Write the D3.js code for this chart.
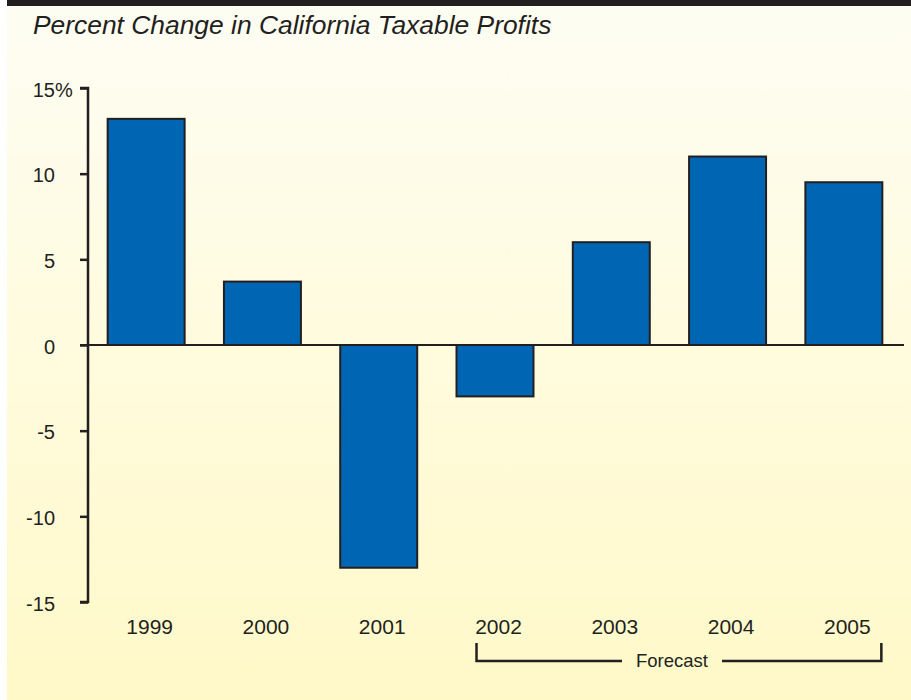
<!DOCTYPE html>
<html><head><meta charset="utf-8">
<script src="https://cdn.jsdelivr.net/npm/d3@7"></script>
<style>html,body{margin:0;padding:0;background:#fff;}svg{display:block;}</style>
</head><body>
<svg id="c" width="911" height="700"></svg>
<script>
const years = ["1999","2000","2001","2002","2003","2004","2005"];
const values = [13.2, 3.7, -13.0, -3.0, 6.0, 11.0, 9.5];
const yTicks = [15, 10, 5, 0, -5, -10, -15];
const forecastYears = ["2002","2005"];
const title = "Percent Change in California Taxable Profits";

const svg = d3.select("#c");
const defs = svg.append("defs");
const g = defs.append("linearGradient").attr("id","bg").attr("x1",0).attr("y1",0).attr("x2",0).attr("y2",1);
g.append("stop").attr("offset","0%").attr("stop-color","#FEFDF3");
g.append("stop").attr("offset","100%").attr("stop-color","#FFF9C8");
svg.append("rect").attr("x",7).attr("y",0).attr("width",904).attr("height",700).attr("fill","url(#bg)");
svg.append("rect").attr("x",7).attr("y",0).attr("width",904).attr("height",6).attr("fill","#231F20");

const font = "'Liberation Sans', Arial, Helvetica, sans-serif";

svg.append("text").attr("x",33).attr("y",34).attr("font-family",font)
  .attr("font-size",26.4).attr("font-style","italic").attr("fill","#231F20").text(title);

const x = d3.scaleBand().domain(years).range([88, 902]).paddingInner(0.338).paddingOuter(0.169);
const y = d3.scaleLinear().domain([-15, 15]).range([602, 88]);

// bars
svg.append("g").selectAll("rect").data(years).join("rect")
  .attr("x", d => x(d))
  .attr("width", x.bandwidth())
  .attr("y", (d,i) => y(Math.max(0, values[i])))
  .attr("height", (d,i) => Math.abs(y(values[i]) - y(0)))
  .attr("fill", "#0066B3").attr("stroke", "#231F20").attr("stroke-width", 2);

// zero line
svg.append("line").attr("x1",80).attr("x2",904).attr("y1",y(0)).attr("y2",y(0))
  .attr("stroke","#231F20").attr("stroke-width",2);

// y axis
const yAxis = d3.axisLeft(y).tickValues(yTicks).tickSize(8).tickPadding(25)
  .tickFormat(d => String(d));
const ya = svg.append("g").attr("transform","translate(88,0)").call(yAxis);
ya.select(".domain").attr("stroke","#231F20").attr("stroke-width",2.5).attr("d", `M-8,${y(15)}H0V${y(-15)}H-8`);
ya.selectAll(".tick line").attr("stroke","#231F20").attr("stroke-width",2.5);
ya.selectAll(".tick text").attr("font-family",font).attr("font-size",20).attr("fill","#231F20").attr("dy","0.4em");
ya.selectAll(".tick").filter(d => d === 15).append("text")
  .attr("x",-33).attr("dy","0.4em").attr("text-anchor","start")
  .attr("font-family",font).attr("font-size",20).attr("fill","#231F20").text("%");

// x labels
const xAxis = d3.axisBottom(x).tickSize(0).tickPadding(0);
const xa = svg.append("g").attr("transform","translate(3.5,619)").call(xAxis);
xa.select(".domain").remove();
xa.selectAll(".tick text").attr("font-family",font).attr("font-size",21).attr("fill","#231F20").attr("dy","0.71em");

// forecast bracket
const fx1 = x(forecastYears[0]) + 20, fx2 = x(forecastYears[1]) + x.bandwidth() - 1;
const by = 661, bt = 643;
const br = svg.append("g").attr("stroke","#231F20").attr("stroke-width",2.5).attr("fill","none");
br.append("path").attr("d", `M${fx1},${bt}V${by}H622`);
br.append("path").attr("d", `M722,${by}H${fx2}V${bt}`);
svg.append("text").attr("x",672).attr("y",by+6).attr("text-anchor","middle")
  .attr("font-family",font).attr("font-size",18.5).attr("fill","#231F20").text("Forecast");
</script>
</body></html>
